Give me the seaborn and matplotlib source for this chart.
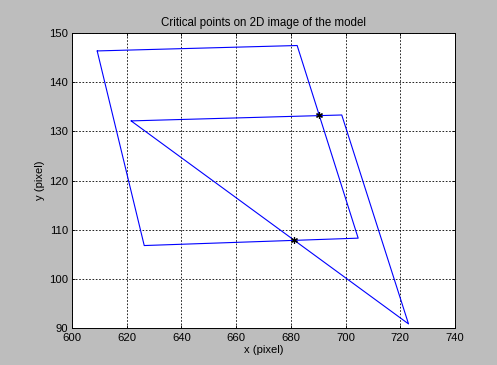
import matplotlib
matplotlib.use("Agg")
import matplotlib.pyplot as plt
import seaborn as sns
import pandas as pd

# Outer quadrilateral (closed) and inner triangle (closed)
quad_x = [609.2, 682.3, 704.6, 626.4, 609.2]
quad_y = [146.3, 147.4, 108.3, 106.8, 146.3]
tri_x = [621.6, 698.6, 723.0, 621.6]
tri_y = [132.1, 133.3, 90.9, 132.1]
crit_x = [690.3, 681.1]
crit_y = [133.3, 107.9]

x_ticks = [600, 620, 640, 660, 680, 700, 720, 740]
y_ticks = [90, 100, 110, 120, 130, 140, 150]

sns.set_theme(style="white")
plt.rcParams['font.family'] = ['Liberation Sans', 'DejaVu Sans']
plt.rcParams['text.color'] = 'black'
plt.rcParams['axes.labelcolor'] = 'black'

lines = pd.DataFrame({
    "x": quad_x + tri_x,
    "y": quad_y + tri_y,
    "shape": ["quad"] * len(quad_x) + ["tri"] * len(tri_x),
})
pts = pd.DataFrame({"x": crit_x, "y": crit_y})

fig = plt.figure(figsize=(4.97, 3.65), dpi=100, facecolor="#bdbdbd")
ax = fig.add_axes([0.1449, 0.1005, 0.7706, 0.8099])
ax.set_facecolor("white")

sns.lineplot(data=lines, x="x", y="y", units="shape", estimator=None,
             sort=False, color="#0000ff", linewidth=0.8, ax=ax, legend=False)
sns.scatterplot(data=pts, x="x", y="y", marker=(6, 2, 0), s=18,
                color="black", linewidth=0.9, ax=ax, legend=False, zorder=5)

ax.set_xlim(600, 740)
ax.set_ylim(90, 150)
ax.set_xticks(x_ticks)
ax.set_yticks(y_ticks)
ax.grid(True, color="black", linestyle=(0, (2, 2)), linewidth=0.6)
ax.tick_params(direction="in", length=2, width=0.6, labelsize=8.1,
               colors="black", top=True, right=True, bottom=True, left=True)
ax.tick_params(axis="x", pad=3.5)
ax.tick_params(axis="y", pad=3)
for s in ax.spines.values():
    s.set_color("black")
    s.set_linewidth(0.7)
ax.set_xlabel("x (pixel)", fontsize=8.1, labelpad=1, color="black")
ax.set_ylabel("y (pixel)", fontsize=8.1, labelpad=3, color="black")
ax.set_title("Critical points on 2D image of the model", fontsize=8.3,
             pad=5, color="black")

fig.savefig("out.png", dpi=100, facecolor=fig.get_facecolor())
